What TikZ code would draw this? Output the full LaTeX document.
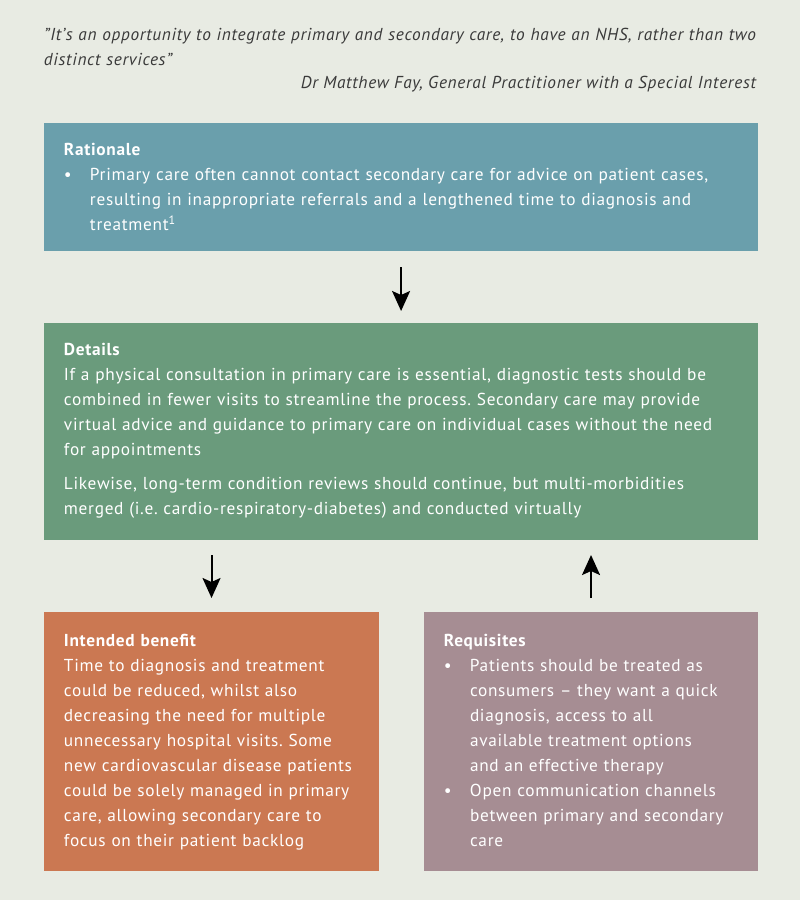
\documentclass[tikz,border=0pt]{standalone}
\usepackage{fontspec}
\setmainfont{PT Sans}[LetterSpace=4]
\usetikzlibrary{arrows.meta, positioning}
\definecolor{cpaper}{HTML}{E8EBE3}
\definecolor{cteal}{HTML}{6A9FAC}
\definecolor{cgreen}{HTML}{6A9B7C}
\definecolor{corange}{HTML}{CB7852}
\definecolor{cmauve}{HTML}{A68D93}
\definecolor{cink}{HTML}{3A3A3A}
\setlength\parindent{0pt}
\frenchspacing
\tikzset{
  every picture/.style={line width=1.4pt},
  box/.style={fill=#1, draw=none, anchor=north west, inner sep=0pt},
  body/.style={text=white, align=left, inner sep=0pt, font=\fontsize{12.3}{17.78}\selectfont},
  arrow/.style={-{Stealth[length=0.5cm, width=0.45cm, inset=0.1cm]}, draw=black},
  quote/.style={text=cink, inner sep=0pt, font=\fontsize{12.3}{17.78}\selectfont\itshape},
}
% bullet with hanging lines
\newcommand\bitem{\par\hangindent=0.65cm\hangafter=1\makebox[0.65cm][l]{\textbullet}}

\begin{document}
\begin{tikzpicture}[x=0.025cm, y=-0.025cm]
  \fill[cpaper] (0,0) rectangle (800,900);
  % quote
  \node[quote, anchor=north west, text width=18.5cm, align=left] (quote) at (43,27)
    {"It’s an opportunity to integrate primary and secondary care, to have an NHS, rather than two\\distinct services"};
  \node[quote, anchor=base east] (attrib) at (757,89) {Dr Matthew Fay, General Practitioner with a Special Interest};
  % boxes
  \node[box=cteal, minimum width=17.85cm, minimum height=3.2cm] (rationale) at (43,122) {};
  \node[box=cgreen, minimum width=17.85cm, minimum height=5.425cm] (details) at (43,322) {};
  \node[box=corange, minimum width=8.375cm, minimum height=6.475cm] (benefit) at (43,611) {};
  \node[box=cmauve, minimum width=8.35cm, minimum height=6.475cm] (requisites) at (423,611) {};
  % texts
  \node[body, text width=17.3cm, below right=0.5cm and 0.5cm of rationale.north west] (rationaletext) {%
    {\bfseries Rationale}
    \bitem Primary care often cannot contact secondary care for advice on patient cases,\newline
    resulting in inappropriate referrals and a lengthened time to diagnosis and\newline
    treatment\textsuperscript{1}\par};
  \node[body, text width=17.3cm, below right=0.5cm and 0.5cm of details.north west] (detailstext) {%
    {\bfseries Details}\par
    If a physical consultation in primary care is essential, diagnostic tests should be\\
    combined in fewer visits to streamline the process. Secondary care may provide\\
    virtual advice and guidance to primary care on individual cases without the need\\
    for appointments\par\vspace{0.225cm}
    Likewise, long-term condition reviews should continue, but multi-morbidities\\
    merged (i.e. cardio-respiratory-diabetes) and conducted virtually};
  \node[body, text width=8cm, below right=0.55cm and 0.5cm of benefit.north west] (benefittext) {%
    {\bfseries Intended benefit}\par
    Time to diagnosis and treatment\\
    could be reduced, whilst also\\
    decreasing the need for multiple\\
    unnecessary hospital visits. Some\\
    new cardiovascular disease patients\\
    could be solely managed in primary\\
    care, allowing secondary care to\\
    focus on their patient backlog};
  \node[body, text width=8cm, below right=0.55cm and 0.5cm of requisites.north west] (requisitestext) {%
    {\bfseries Requisites}
    \bitem Patients should be treated as\newline
    consumers – they want a quick\newline
    diagnosis, access to all\newline
    available treatment options\newline
    and an effective therapy
    \bitem Open communication channels\newline
    between primary and secondary\newline
    care\par};
  % arrows
  \draw[arrow, shorten <=0.375cm, shorten >=0.275cm] (rationale) -- (details);
  \draw[arrow, shorten <=0.35cm, shorten >=0.325cm] (details.south -| benefit.north) -- (benefit.north);
  \draw[arrow, shorten <=0.325cm, shorten >=0.35cm] (requisites.north) -- (details.south -| requisites.north);
\end{tikzpicture}
\end{document}
